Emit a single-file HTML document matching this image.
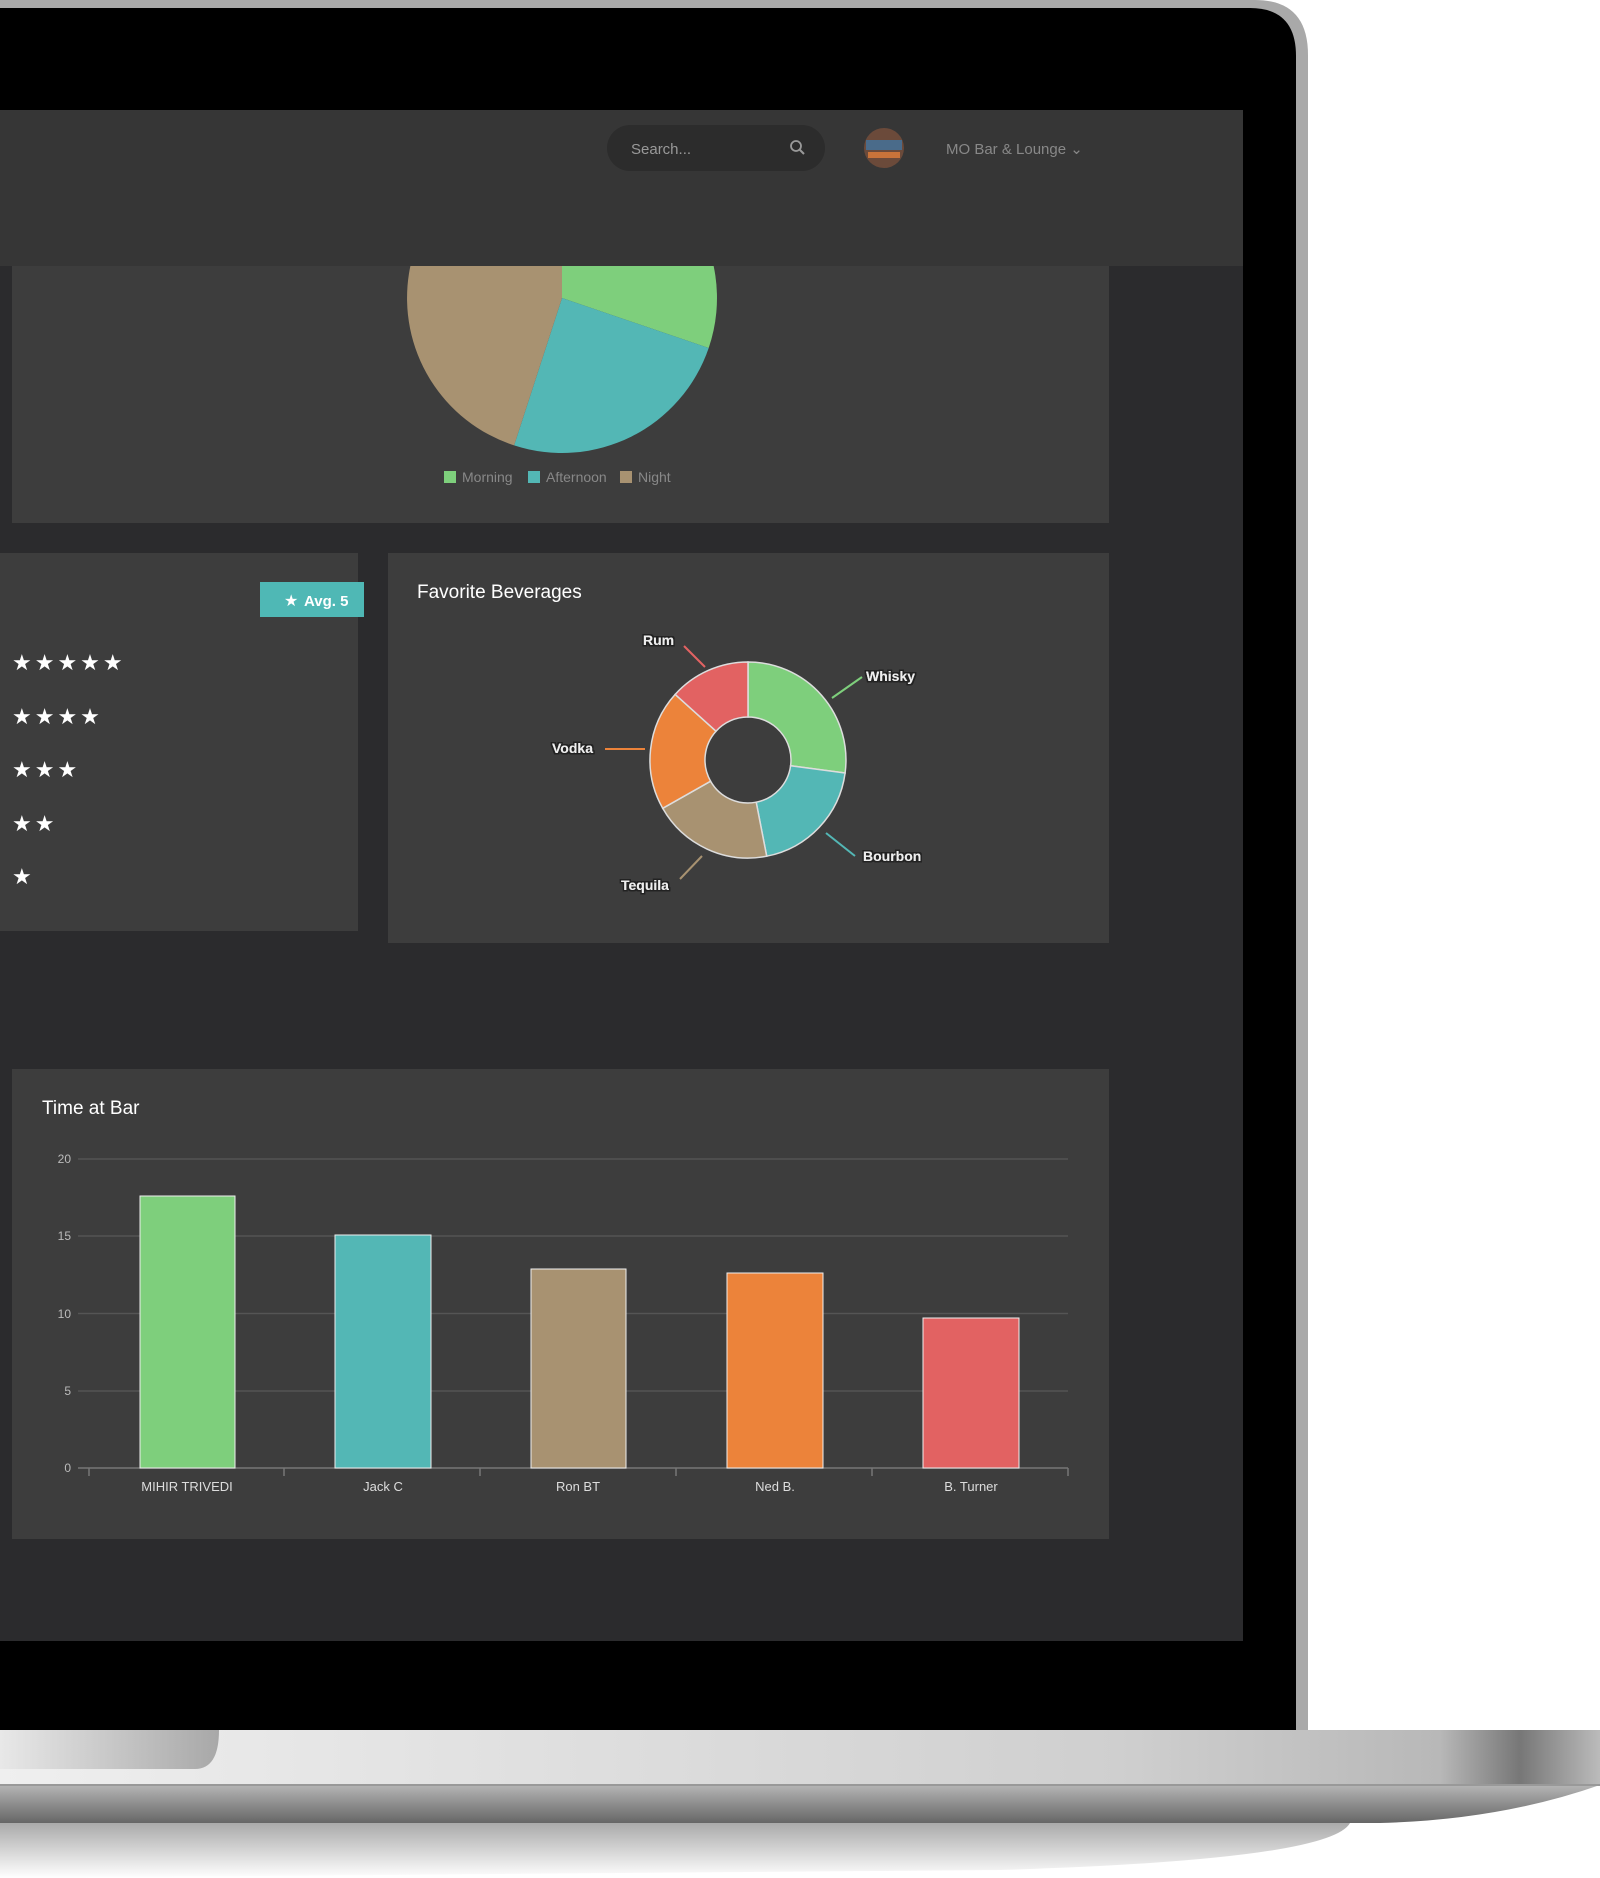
<!DOCTYPE html>
<html><head><meta charset="utf-8"><style>
html,body{margin:0;padding:0;background:#fff;width:1600px;height:1878px;overflow:hidden}
svg{display:block}
text{font-family:"Liberation Sans",sans-serif}
</style></head><body>
<svg width="1600" height="1878" viewBox="0 0 1600 1878" xmlns="http://www.w3.org/2000/svg">
<defs>
<linearGradient id="base" x1="0" x2="1" y1="0" y2="0">
<stop offset="0" stop-color="#efefef"/><stop offset="0.7" stop-color="#cfcfcf"/><stop offset="0.9" stop-color="#b8b8b8"/><stop offset="0.95" stop-color="#777"/><stop offset="1" stop-color="#bbb"/></linearGradient>
<linearGradient id="lower" x1="0" x2="0" y1="0" y2="1">
<stop offset="0" stop-color="#b5b5b5"/><stop offset="1" stop-color="#666"/></linearGradient>
<linearGradient id="shadow" x1="0" x2="0" y1="0" y2="1">
<stop offset="0" stop-color="#aaa"/><stop offset="1" stop-color="#fff"/></linearGradient>
<linearGradient id="notch" x1="0" x2="1"><stop offset="0" stop-color="#e8e8e8"/><stop offset="1" stop-color="#a8a8a8"/></linearGradient>
<clipPath id="pieclip"><rect x="12" y="266" width="1097" height="257"/></clipPath>
<filter id="ol"><feMorphology in="SourceAlpha" operator="dilate" radius="1.3" result="d"/><feFlood flood-color="#222"/><feComposite in2="d" operator="in" result="o"/><feMerge><feMergeNode in="o"/><feMergeNode in="SourceGraphic"/></feMerge></filter>
</defs>
<path d="M0,0 L1255,0 Q1308,0 1308,55 L1308,1730 L0,1730 Z" fill="#a9a9a9"/>
<path d="M0,8 L1250,8 Q1296,8 1296,56 L1296,1730 L0,1730 Z" fill="#000"/>
<rect x="0" y="110" width="1243" height="1531" fill="#2b2b2d"/>
<rect x="0" y="110" width="1243" height="156" fill="#363636"/>
<rect x="607" y="125" width="218" height="46" rx="23" fill="#2c2c2c"/>
<text x="631" y="154" font-size="15" fill="#999">Search...</text>
<circle cx="796" cy="146" r="5" fill="none" stroke="#999" stroke-width="1.8"/><line x1="800" y1="150" x2="804" y2="154" stroke="#999" stroke-width="2"/>
<circle cx="884" cy="148" r="20" fill="#6b4a3a"/><rect x="866" y="140" width="36" height="10" fill="#4a6b8a"/><rect x="868" y="152" width="32" height="6" fill="#c8733a"/>
<text x="946" y="154" font-size="15" fill="#888">MO Bar &amp; Lounge ⌄</text>
<rect x="12" y="266" width="1097" height="257" fill="#3d3d3d"/>
<g clip-path="url(#pieclip)">
<path d="M562,298 L562,143 A155,155 0 0 1 708.7,348 Z" fill="#7ecf7c"/>
<path d="M562,298 L708.7,348 A155,155 0 0 1 514.1,445.4 Z" fill="#53b7b5"/>
<path d="M562,298 L514.1,445.4 A155,155 0 0 1 562,143 Z" fill="#a89271"/>
</g>
<rect x="444" y="471" width="12" height="12" fill="#7ecf7c"/><text x="462" y="482" font-size="14" fill="#888">Morning</text>
<rect x="528" y="471" width="12" height="12" fill="#53b7b5"/><text x="546" y="482" font-size="14" fill="#888">Afternoon</text>
<rect x="620" y="471" width="12" height="12" fill="#a89271"/><text x="638" y="482" font-size="14" fill="#888">Night</text>
<rect x="0" y="553" width="358" height="378" fill="#3d3d3d"/>
<rect x="260" y="582" width="104" height="35" fill="#4fb8b5"/>
<text x="284" y="606" font-size="16" fill="#fff">★</text><text x="304" y="606" font-size="15" font-weight="bold" fill="#fff">Avg. 5</text>
<g font-size="22" fill="#fff" letter-spacing="3">
<text x="12" y="670">★★★★★</text>
<text x="12" y="724">★★★★</text>
<text x="12" y="777">★★★</text>
<text x="12" y="831">★★</text>
<text x="12" y="884">★</text>
</g>
<rect x="388" y="553" width="721" height="390" fill="#3d3d3d"/>
<text x="417" y="598" font-size="19" fill="#fff">Favorite Beverages</text>
<g stroke="#ddd" stroke-width="1.5">
<path d="M748,662 A98,98 0 0 1 845.1,773 L790.6,765.7 A43,43 0 0 0 748,717 Z" fill="#7ecf7c"/>
<path d="M845.1,773 A98,98 0 0 1 766.7,856.2 L756.2,802.2 A43,43 0 0 0 790.6,765.7 Z" fill="#53b7b5"/>
<path d="M766.7,856.2 A98,98 0 0 1 662.7,808.3 L710.6,781.2 A43,43 0 0 0 756.2,802.2 Z" fill="#a89271"/>
<path d="M662.7,808.3 A98,98 0 0 1 675.2,694.4 L716,731.2 A43,43 0 0 0 710.6,781.2 Z" fill="#ec833a"/>
<path d="M675.2,694.4 A98,98 0 0 1 748,662 L748,717 A43,43 0 0 0 716,731.2 Z" fill="#e26262"/>
</g>
<line x1="684" y1="646" x2="705" y2="667" stroke="#e26262" stroke-width="2"/>
<line x1="832" y1="698" x2="862" y2="677" stroke="#7ecf7c" stroke-width="2"/>
<line x1="605" y1="749" x2="645" y2="749" stroke="#ec833a" stroke-width="2"/>
<line x1="826" y1="833" x2="855" y2="856" stroke="#53b7b5" stroke-width="2"/>
<line x1="680" y1="879" x2="702" y2="856" stroke="#a89271" stroke-width="2"/>
<g font-size="14" font-weight="bold" fill="#eee" filter="url(#ol)">
<text x="643" y="645">Rum</text>
<text x="866" y="681">Whisky</text>
<text x="552" y="753">Vodka</text>
<text x="863" y="861">Bourbon</text>
<text x="621" y="890">Tequila</text>
</g>
<rect x="12" y="1069" width="1097" height="470" fill="#3d3d3d"/>
<text x="42" y="1114" font-size="19" fill="#fff">Time at Bar</text>
<g stroke="#555" stroke-width="1.5">
<line x1="78" y1="1159" x2="1068" y2="1159"/><line x1="78" y1="1236" x2="1068" y2="1236"/>
<line x1="78" y1="1313.5" x2="1068" y2="1313.5"/><line x1="78" y1="1391" x2="1068" y2="1391"/>
</g>
<line x1="78" y1="1468" x2="1068" y2="1468" stroke="#777" stroke-width="1.5"/>
<g stroke="#777" stroke-width="1.5"><line x1="89" y1="1468" x2="89" y2="1476"/><line x1="284" y1="1468" x2="284" y2="1476"/><line x1="480" y1="1468" x2="480" y2="1476"/><line x1="676" y1="1468" x2="676" y2="1476"/><line x1="872" y1="1468" x2="872" y2="1476"/><line x1="1068" y1="1468" x2="1068" y2="1476"/></g>
<g font-size="12" fill="#bbb" text-anchor="end">
<text x="71" y="1163">20</text><text x="71" y="1240">15</text><text x="71" y="1318">10</text><text x="71" y="1395">5</text><text x="71" y="1472">0</text></g>
<g stroke="#eee" stroke-width="1">
<rect x="140" y="1196" width="95" height="272" fill="#7ecf7c"/>
<rect x="335" y="1235" width="96" height="233" fill="#53b7b5"/>
<rect x="531" y="1269" width="95" height="199" fill="#a89271"/>
<rect x="727" y="1273" width="96" height="195" fill="#ec833a"/>
<rect x="923" y="1318" width="96" height="150" fill="#e26262"/>
</g>
<g font-size="13" fill="#ddd" text-anchor="middle">
<text x="187" y="1491">MIHIR TRIVEDI</text><text x="383" y="1491">Jack C</text><text x="578" y="1491">Ron BT</text><text x="775" y="1491">Ned B.</text><text x="971" y="1491">B. Turner</text></g>
<path d="M0,1823 L1350,1823 Q1330,1860 1000,1870 L0,1878 Z" fill="url(#shadow)"/>
<path d="M0,1785 L1600,1785 Q1500,1820 1380,1823 L0,1823 Z" fill="url(#lower)"/>
<rect x="0" y="1730" width="1600" height="55" fill="url(#base)"/>
<path d="M0,1730 L219,1730 Q219,1769 195,1769 L0,1769 Z" fill="url(#notch)"/>
<line x1="0" y1="1785" x2="1600" y2="1785" stroke="#999" stroke-width="2"/>
</svg>
</body></html>
